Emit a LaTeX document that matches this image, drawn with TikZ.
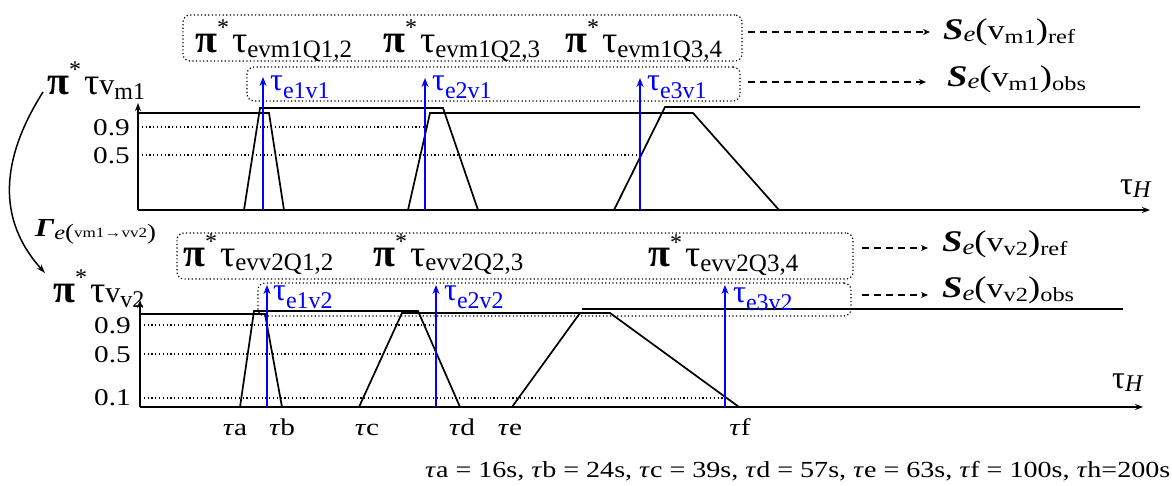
\documentclass[tikz,border=0pt]{standalone}
\usepackage{fontspec}
\setmainfont{Liberation Serif}
\newfontfamily\widefont{Liberation Serif}[FakeStretch=1.22]
\usetikzlibrary{arrows.meta}
\newcommand\fs[1]{\fontsize{#1}{#1}\selectfont}
\newcommand\pitau[1]{{\fs{40}\bfseries π}\raisebox{17pt}{\fs{24}*}\hspace{3pt}{\fs{38}τ}\raisebox{-5pt}{\fs{25}#1}}
\newcommand\bt[1]{{\fs{32}τ}\raisebox{-8pt}{\fs{24}#1}}
\newcommand\Se[2]{\widefont{\fs{30}\bfseries\itshape S}\raisebox{-2pt}{\fs{22}\itshape e}{\fs{30}(}{\fs{28}v}\raisebox{-4pt}{\fs{20}#1}{\fs{30})}\raisebox{-4pt}{\fs{20}#2}}
\begin{document}
\begin{tikzpicture}[x=1pt,y=-1pt,
  axis/.style={line width=2pt,-{Stealth[length=8pt,width=6pt]}},
  lvl/.style={line width=1.7pt, line join=miter},
  dots/.style={line width=1.2pt, dash pattern=on 1.2pt off 2.6pt},
  box/.style={draw, line width=1.2pt, dash pattern=on 1.2pt off 2.4pt, rounded corners=7pt, inner sep=0pt},
  obs/.style={blue, line width=2.8pt, -{Stealth[length=9pt,width=7pt]}},
  darr/.style={line width=1.6pt, dash pattern=on 7pt off 5pt, -{Stealth[length=7pt,width=6pt]}},
  lab/.style={inner sep=0pt, anchor=base west},
  cen/.style={inner sep=0pt, anchor=base, font=\widefont\fs{24}},
  tick/.style={inner sep=0pt, anchor=east, font=\widefont\fs{24}},
  curv/.style={line width=1.5pt, -{Stealth[length=9pt,width=6pt]}},
]
\useasboundingbox (0,0) rectangle (1172,486);

% ---------- top panel ----------
\node[box, minimum width=559pt, minimum height=46pt] (rb1) at (462.5,38) {};
\node[box, minimum width=493pt, minimum height=34pt] (ob1) at (493.5,84) {};
\node[lab] (q11) at (195,53) {\pitau{evm1Q1,2}};
\node[lab] (q12) at (383,53) {\pitau{evm1Q2,3}};
\node[lab] (q13) at (565,53) {\pitau{evm1Q3,4}};

\coordinate (O1) at (138,210);
\coordinate (Y1) at (138,103);
\coordinate (X1) at (1150,210);
\draw[axis] (O1) -- (Y1);
\draw[axis] (O1) -- (X1);
\node[lab] (tH1) at (1120,195) {{\fs{32}τ}\raisebox{-3pt}{\fs{24}\itshape H}};

\draw[dots] (138,127) -- (425,127);
\draw[dots] (138,155) -- (640,155);
\node[tick] (t19) at (130,128) {0.9};
\node[tick] (t15) at (130,156) {0.5};

\draw[lvl] (138,113) -- (260,113);
\draw[lvl] (244,210) -- (260,108) -- (443,108) -- (478,210);
\draw[lvl] (260,113) -- (269,113) -- (284,210);
\draw[lvl] (408,210) -- (430,113) -- (693,113) -- (779,210);
\draw[lvl] (614,210) -- (665,107) -- (1140,107);

\coordinate (a1) at (263,210); \coordinate (a1t) at (263,77);
\coordinate (a2) at (425,210); \coordinate (a2t) at (425,78);
\coordinate (a3) at (640,210); \coordinate (a3t) at (640,78);
\draw[obs] (a1) -- (a1t);
\draw[obs] (a2) -- (a2t);
\draw[obs] (a3) -- (a3t);
\node[lab, text=blue] (e11) at (270,91) {\bt{e1v1}};
\node[lab, text=blue] (e12) at (432,91) {\bt{e2v1}};
\node[lab, text=blue] (e13) at (647,91) {\bt{e3v1}};

\coordinate (d1s) at (748,32); \coordinate (d1e) at (930,32);
\coordinate (d2s) at (748,82); \coordinate (d2e) at (926,82);
\draw[darr] (d1s) -- (d1e);
\draw[darr] (d2s) -- (d2e);
\node[lab] (S1r) at (943,40) {\Se{m1}{ref}};
\node[lab] (S1o) at (947,87) {\Se{m1}{obs}};

\node[lab] (Lm1) at (47,95) {{\fs{40}\bfseries π}\raisebox{17pt}{\fs{24}*}\hspace{3pt}{\fs{38}τ}{\fs{30}v}\raisebox{-5pt}{\fs{24}m1}};

% ---------- bottom panel ----------
\node[box, minimum width=676pt, minimum height=46pt] (rb2) at (515,256) {};
\node[box, minimum width=593pt, minimum height=33pt] (ob2) at (554.5,299.5) {};
\node[lab] (q21) at (183,266) {\pitau{evv2Q1,2}};
\node[lab] (q22) at (373,266) {\pitau{evv2Q2,3}};
\node[lab] (q23) at (648,267) {\pitau{evv2Q3,4}};

\coordinate (O2) at (140,407);
\coordinate (Y2) at (140,300);
\coordinate (X2) at (1143,407);
\draw[axis] (O2) -- (Y2);
\draw[axis] (O2) -- (X2);
\node[lab] (tH2) at (1112,388) {{\fs{32}τ}\raisebox{-3pt}{\fs{24}\itshape H}};

\draw[dots] (140,325) -- (436,325);
\draw[dots] (140,354) -- (436,354);
\draw[dots] (140,398) -- (725,398);
\node[tick] (t29) at (131,326) {0.9};
\node[tick] (t25) at (131,355) {0.5};
\node[tick] (t21) at (131,398) {0.1};

\draw[lvl] (140,314) -- (254,314);
\draw[lvl] (240,407) -- (254,311) -- (418,311) -- (460,407);
\draw[lvl] (254,314) -- (265,314) -- (282,407);
\draw[lvl] (359,407) -- (402,313) -- (582,313);
\draw[lvl] (512,407) -- (580,313) -- (610,313) -- (739,407);
\draw[lvl] (582,309) -- (1123,309);

\coordinate (b1) at (267,407); \coordinate (b1t) at (267,285);
\coordinate (b2) at (436,407); \coordinate (b2t) at (436,285);
\coordinate (b3) at (725,407); \coordinate (b3t) at (725,285);
\draw[obs] (b1) -- (b1t);
\draw[obs] (b2) -- (b2t);
\draw[obs] (b3) -- (b3t);
\node[lab, text=blue] (e21) at (273,301) {\bt{e1v2}};
\node[lab, text=blue] (e22) at (444,301) {\bt{e2v2}};
\node[lab, text=blue] (e23) at (733,302) {\bt{e3v2}};

\coordinate (d3s) at (862,248); \coordinate (d3e) at (928,248);
\coordinate (d4s) at (862,295); \coordinate (d4e) at (928,295);
\draw[darr] (d3s) -- (d3e);
\draw[darr] (d4s) -- (d4e);
\node[lab] (S2r) at (942,252) {\Se{v2}{ref}};
\node[lab] (S2o) at (942,298) {\Se{v2}{obs}};

\node[lab] (Lv2) at (53,302) {{\fs{40}\bfseries π}\raisebox{17pt}{\fs{24}*}\hspace{3pt}{\fs{38}τ}{\fs{30}v}\raisebox{-5pt}{\fs{24}v2}};

% transfer arrow
\coordinate (c1) at (43,92);
\coordinate (c2) at (45,273);
\draw[curv] (c1) .. controls (0,160) and (-3,220) .. (c2);
\node[lab] (gam) at (35,237) {\widefont{\fs{26}\bfseries\itshape Γ}\raisebox{-2pt}{\fs{20}\itshape e}\raisebox{-2pt}{\fs{22}(}\raisebox{-1pt}{\fs{14}vm1→vv2}\raisebox{-2pt}{\fs{22})}};

% time labels
\node[cen] (ta) at (235,435) {\textit{τ}a};
\node[cen] (tb) at (282,435) {\textit{τ}b};
\node[cen] (tc) at (367,435) {\textit{τ}c};
\node[cen] (td) at (462,435) {\textit{τ}d};
\node[cen] (te) at (510,435) {\textit{τ}e};
\node[cen] (tf) at (740,435) {\textit{τ}f};
\node[lab, font=\widefont\fs{23}] (note) at (425,477) {\textit{τ}a = 16s, \textit{τ}b = 24s, \textit{τ}c = 39s, \textit{τ}d = 57s, \textit{τ}e = 63s, \textit{τ}f = 100s, \textit{τ}h=200s};
\end{tikzpicture}
\end{document}
